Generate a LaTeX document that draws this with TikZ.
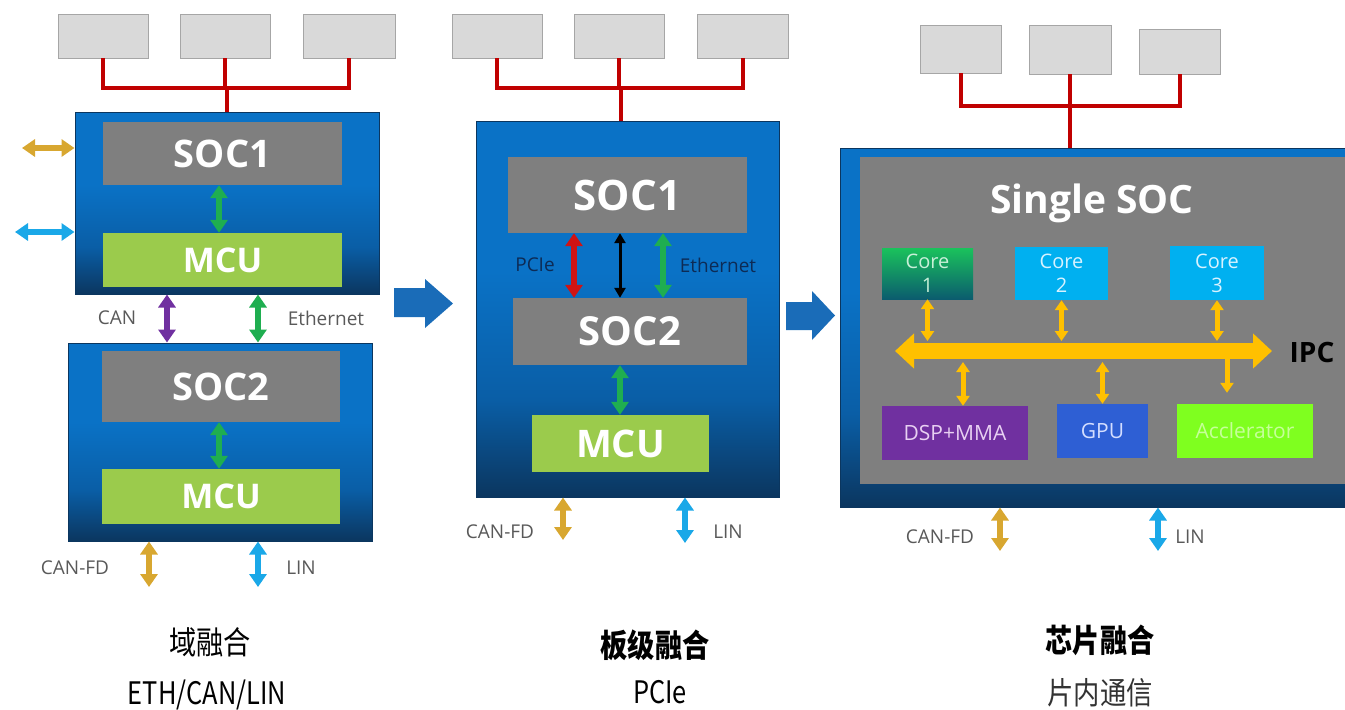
\documentclass[tikz,border=0pt]{standalone}
\usepackage{fontspec}
\setmainfont{Open Sans}
\newfontfamily\cjk{Noto Sans CJK SC}
\usetikzlibrary{arrows.meta}
\definecolor{topgray}{HTML}{D9D9D9}
\definecolor{topedge}{HTML}{A6A6A6}
\definecolor{busred}{HTML}{C00000}
\definecolor{socgray}{HTML}{7F7F7F}
\definecolor{mcugreen}{HTML}{9BCB4C}
\definecolor{bdark}{HTML}{0B365F}
\definecolor{bmid}{HTML}{0A5EA6}
\definecolor{blight}{HTML}{0A72C6}
\definecolor{goldA}{HTML}{D8A730}
\definecolor{cyanA}{HTML}{1AA8E8}
\definecolor{greenA}{HTML}{1FAE50}
\definecolor{purpA}{HTML}{7030A0}
\definecolor{pcired}{HTML}{D01414}
\definecolor{ipcgold}{HTML}{FFC000}
\definecolor{labgray}{HTML}{595959}
\definecolor{navy}{HTML}{0D2B55}
\definecolor{arrblue}{HTML}{1A6CB8}
\definecolor{corecyan}{HTML}{00B0F0}
\definecolor{dspp}{HTML}{7030A0}
\definecolor{gpub}{HTML}{2E5FD4}
\definecolor{acclime}{HTML}{7FFF1F}
\definecolor{coretop}{HTML}{1AC25C}
\definecolor{corebot}{HTML}{0B5C6E}
\definecolor{core1txt}{HTML}{C8F0D8}
\definecolor{coretxt}{HTML}{D8F2FF}
\definecolor{dsptxt}{HTML}{E8D0F2}
\definecolor{gputxt}{HTML}{D4DEFF}
\definecolor{acctxt}{HTML}{C6FF9A}
\definecolor{subtxt}{HTML}{333333}
\pgfdeclareverticalshading{bluebox}{100bp}{color(0bp)=(bdark); color(25bp)=(bdark); color(38bp)=(bmid); color(55bp)=(blight); color(75bp)=(blight); color(100bp)=(blight)}
\tikzset{
  topbox/.style={draw=topedge, fill=topgray, line width=0.8pt, inner sep=0pt},
  bus/.style={draw=busred, line width=4pt},
  bluebox/.style={draw=bdark, line width=1pt, shading=bluebox, inner sep=0pt},
  socbox/.style={fill=socgray, text=white, inner sep=0pt, font=\bfseries\fontsize{38}{42}\selectfont},
  mcubox/.style={fill=mcugreen, text=white, inner sep=0pt, font=\bfseries\fontsize{34}{38}\selectfont},
  dbl/.style={line width=6.5pt, arrows={Triangle[width=17pt,length=13pt]-Triangle[width=17pt,length=13pt]}},
  sdbl/.style={line width=5pt, arrows={Triangle[width=13pt,length=10pt]-Triangle[width=13pt,length=10pt]}},
  sone/.style={line width=5pt, arrows={-Triangle[width=13pt,length=10pt]}},
  lab/.style={text=labgray, font=\fontsize{19}{22}\selectfont},
  nlab/.style={text=navy, font=\fontsize{19}{22}\selectfont},
  blockarrow/.style={fill=arrblue, draw=none},
  corebox/.style={inner sep=0pt, align=center, font=\fontsize{20}{24}\selectfont},
  unitbox/.style={inner sep=0pt, font=\fontsize{21}{24}\selectfont},
  title/.style={font=\cjk\fontsize{32}{36}\selectfont},
  sub/.style={font=\cjk\fontsize{31}{34}\selectfont}
}
\begin{document}
\begin{tikzpicture}[x=1pt,y=-1pt]
\useasboundingbox (0,0) rectangle (1345,710);
\clip (0,0) rectangle (1345,710);

% ===== Panel 1 =====
\node[topbox, minimum width=90, minimum height=44] (t11) at (103,36) {};
\node[topbox, minimum width=90, minimum height=44] (t12) at (225,36) {};
\node[topbox, minimum width=92, minimum height=44] (t13) at (349,36) {};
\node[bluebox, minimum width=304, minimum height=182] (blue1) at (227,203) {};
\coordinate (bus1) at (227,88);
\draw[bus] (t11.south) |- (bus1) -| (t13.south);
\draw[bus] (t12.south) -- (t12.south |- bus1);
\draw[bus] (bus1) -- (blue1.north);
\node[socbox, minimum width=239, minimum height=63] (soc1a) at (222.5,153.5) {SOC1};
\node[mcubox, minimum width=239, minimum height=54] (mcu1a) at (222.5,260) {MCU};
\coordinate (x1g) at (219,0);
\draw[dbl, greenA] (soc1a.south -| x1g) -- (mcu1a.north -| x1g);
\coordinate (g1) at (22,148);
\draw[dbl, goldA] (g1) -- (g1 -| blue1.west);
\coordinate (c1) at (15,232);
\draw[dbl, cyanA] (c1) -- (c1 -| blue1.west);

\node[bluebox, minimum width=304, minimum height=198] (blue2) at (220,442) {};
\node[socbox, minimum width=238, minimum height=71] (soc2a) at (221,386.5) {SOC2};
\node[mcubox, minimum width=238, minimum height=55] (mcu2a) at (221,496.5) {MCU};
\draw[dbl, greenA] (soc2a.south -| x1g) -- (mcu2a.north -| x1g);
\coordinate (xcan) at (167,0);
\coordinate (xeth) at (258,0);
\draw[dbl, purpA] (blue1.south -| xcan) -- (blue2.north -| xcan);
\draw[dbl, greenA] (blue1.south -| xeth) -- (blue2.north -| xeth);
\node[lab] (lcan) at (117,318) {CAN};
\node[lab] (leth1) at (326,318) {Ethernet};
\coordinate (cf1) at (149,587);
\coordinate (ln1) at (258,587);
\draw[dbl, goldA] (cf1 |- blue2.south) -- (cf1);
\draw[dbl, cyanA] (ln1 |- blue2.south) -- (ln1);
\node[lab] (lcf1) at (75,568) {CAN-FD};
\node[lab] (lln1) at (301,568) {LIN};

\fill[blockarrow] (394,288) -- (425,288) -- (425,279) -- (453,303.5) -- (425,328) -- (425,317) -- (394,317) -- cycle;

% ===== Panel 2 =====
\node[topbox, minimum width=90, minimum height=44] (t21) at (497,36) {};
\node[topbox, minimum width=90, minimum height=44] (t22) at (619,36) {};
\node[topbox, minimum width=91, minimum height=44] (t23) at (742.5,36) {};
\node[bluebox, minimum width=303, minimum height=376] (blueb) at (627.5,309) {};
\coordinate (bus2) at (621,88);
\draw[bus] (t21.south) |- (bus2) -| (t23.south);
\draw[bus] (t22.south) -- (t22.south |- bus2);
\draw[bus] (bus2) -- (bus2 |- blueb.north);
\node[socbox, font=\bfseries\fontsize{42}{46}\selectfont, minimum width=239, minimum height=76] (soc1b) at (627.5,195) {SOC1};
\node[socbox, font=\bfseries\fontsize{40}{44}\selectfont, minimum width=234, minimum height=67] (soc2b) at (630,331.5) {SOC2};
\node[mcubox, font=\bfseries\fontsize{38}{42}\selectfont, minimum width=177, minimum height=57] (mcub) at (620.5,443.5) {MCU};
\coordinate (xr) at (574,0);
\coordinate (xk) at (620,0);
\coordinate (xg) at (663,0);
\draw[dbl, pcired] (soc1b.south -| xr) -- (soc2b.north -| xr);
\draw[line width=3pt, black, arrows={Triangle[width=11pt,length=10pt]-Triangle[width=11pt,length=10pt]}] (soc1b.south -| xk) -- (soc2b.north -| xk);
\draw[dbl, greenA] (soc1b.south -| xg) -- (soc2b.north -| xg);
\draw[dbl, greenA] (soc2b.south -| xk) -- (mcub.north -| xk);
\node[nlab] (lpcie) at (535,265) {PCIe};
\node[nlab] (leth2) at (718,265) {Ethernet};
\coordinate (cf2) at (563,540);
\coordinate (ln2) at (685,543);
\draw[dbl, goldA] (cf2 |- blueb.south) -- (cf2);
\draw[dbl, cyanA] (ln2 |- blueb.south) -- (ln2);
\node[lab] (lcf2) at (500,532) {CAN-FD};
\node[lab] (lln2) at (728,532) {LIN};

\fill[blockarrow] (786,302) -- (812,302) -- (812,291) -- (835,315.5) -- (812,340) -- (812,330) -- (786,330) -- cycle;

% ===== Panel 3 =====
\node[topbox, minimum width=81, minimum height=48] (t31) at (960.5,49) {};
\node[topbox, minimum width=82, minimum height=49] (t32) at (1070,49.5) {};
\node[topbox, minimum width=81, minimum height=45] (t33) at (1179.5,51.5) {};
\node[bluebox, minimum width=520, minimum height=359] (bluec) at (1100,327.5) {};
\coordinate (bus3) at (1070,106);
\draw[bus] (t31.south) |- (bus3) -| (t33.south);
\draw[bus] (t32.south) -- (t32.south |- bus3);
\draw[bus] (bus3) -- (bus3 |- bluec.north);
\node[fill=socgray, inner sep=0pt, minimum width=500, minimum height=327] (gray3) at (1110,320.5) {};
\node[text=white, font=\bfseries\fontsize{39}{44}\selectfont] (single) at (1092,203) {Single SOC};
\node[corebox, top color=coretop, bottom color=corebot, text=core1txt, minimum width=91, minimum height=51] (core1) at (927.5,273.5) {Core\\1};
\node[corebox, fill=corecyan, text=coretxt, minimum width=93, minimum height=53] (core2) at (1061.5,273.5) {Core\\2};
\node[corebox, fill=corecyan, text=coretxt, minimum width=94, minimum height=54] (core3) at (1217,273) {Core\\3};
\coordinate (ipcL) at (895,351);
\coordinate (ipcR) at (1272,351);
\coordinate (xa) at (1227,0);
\node[unitbox, fill=acclime, text=acctxt, minimum width=136, minimum height=54] (acc) at (1245,431) {Acclerator};
\draw[sone, ipcgold] (xa |- ipcL) -- ([yshift=11pt]acc.north -| xa);
\draw[ipcgold, line width=16pt, arrows={Triangle[width=34pt,length=19pt]-Triangle[width=34pt,length=19pt]}] (ipcL) -- (ipcR);
\node[font=\bfseries\fontsize{28}{32}\selectfont] (ipc) at (1312,352) {IPC};
\coordinate (ipcT) at (0,341);
\coordinate (ipcB) at (0,362);
\draw[sdbl, ipcgold] (core1.south) -- (core1.south |- ipcT);
\draw[sdbl, ipcgold] (core2.south) -- (core2.south |- ipcT);
\draw[sdbl, ipcgold] (core3.south) -- (core3.south |- ipcT);
\node[unitbox, fill=dspp, text=dsptxt, minimum width=146, minimum height=54] (dsp) at (955,433) {DSP+MMA};
\node[unitbox, fill=gpub, text=gputxt, minimum width=91, minimum height=54] (gpu) at (1102.5,431) {GPU};
\coordinate (xd) at (963,0);
\draw[sdbl, ipcgold] (xd |- ipcB) -- (dsp.north -| xd);
\draw[sdbl, ipcgold] (gpu.north |- ipcB) -- (gpu.north);
\coordinate (cf3) at (1000,551);
\coordinate (ln3) at (1158,551);
\draw[dbl, goldA] (cf3 |- bluec.south) -- (cf3);
\draw[dbl, cyanA] (ln3 |- bluec.south) -- (ln3);
\node[lab] (lcf3) at (940,537) {CAN-FD};
\node[lab] (lln3) at (1190,537) {LIN};

% ===== Bottom captions =====
\node[title] (cap1) at (210,642) {\scalebox{0.85}[1]{域融合}};
\node[sub] (sub1) at (207,695) {\scalebox{0.82}[1]{ETH/CAN/LIN}};
\node[title, font=\cjk\bfseries\fontsize{32}{36}\selectfont] (cap2) at (655,645) {\scalebox{0.85}[1]{板级融合}};
\node[sub] (sub2) at (660,692) {\scalebox{0.82}[1]{PCIe}};
\node[title, font=\cjk\bfseries\fontsize{32}{36}\selectfont] (cap3) at (1100,640) {\scalebox{0.85}[1]{芯片融合}};
\node[sub, text=subtxt] (sub3) at (1100,693) {\scalebox{0.85}[1]{片内通信}};
\end{tikzpicture}
\end{document}
